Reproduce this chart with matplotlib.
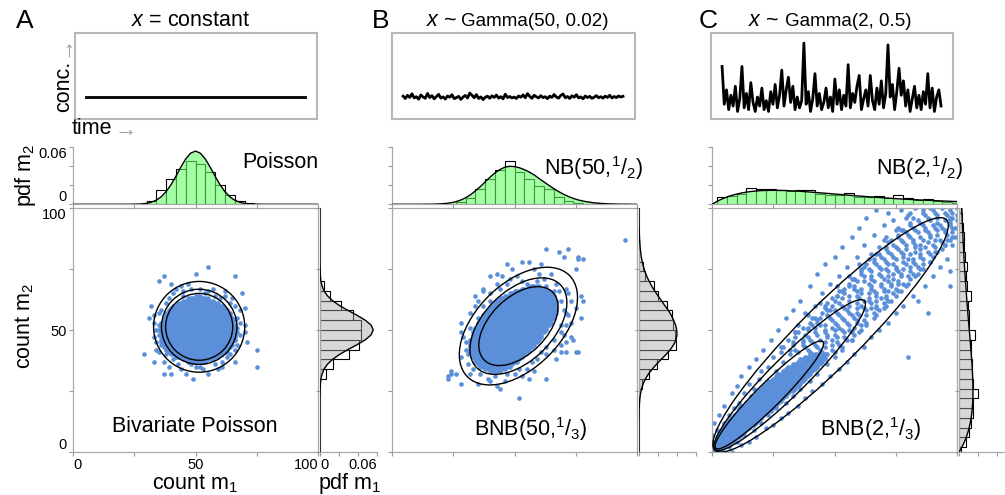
import numpy as np
import matplotlib
matplotlib.use("Agg")
import matplotlib.pyplot as plt
from matplotlib.patches import Ellipse

plt.rcParams['font.family'] = ['Liberation Sans', 'DejaVu Sans']
plt.rcParams['mathtext.fontset'] = 'custom'
plt.rcParams['mathtext.rm'] = 'Liberation Sans'
plt.rcParams['mathtext.it'] = 'Liberation Sans:italic'
plt.rcParams['mathtext.bf'] = 'Liberation Sans:bold'
plt.rcParams['mathtext.sf'] = 'Liberation Sans'

# ------------------------------------------------------------------ data
axis_ticks = [0, 25, 50, 75, 100]
pdf_ticks = [0, 0.02, 0.04, 0.06]

# time series (concentration x)
A_series = [1.0, 1.0]
B_series = [1.05,0.92,1.10,0.98,1.18,0.95,1.02,0.88,1.12,1.00,0.93,1.20,0.97,1.08,0.90,1.03,1.15,0.94,1.01,0.89,
            1.06,0.99,1.13,0.91,0.97,1.04,0.87,1.00,1.09,0.95,1.22,1.10,0.96,1.14,0.92,1.01,0.86,0.99,1.05,0.93,
            1.07,0.98,1.11,0.94,1.02,0.90,1.16,0.97,1.03,0.95,1.00,0.92,1.06,0.99,1.12,0.96,1.19,1.04,0.93,1.10,
            1.01,0.95,1.08,0.97,1.02,0.91,1.05,0.98,1.14,1.00,0.94,1.09,1.17,0.96,1.03,0.92,1.07,0.99,1.13,0.95,
            1.01,0.90,1.06,0.97,1.04,0.93,0.99,1.08,0.96,1.02,0.94,1.05,0.98,1.10,0.95,1.03,0.97,1.06,1.00,1.04]
C_series = [2.7,0.6,1.4,0.3,1.1,0.5,1.6,0.2,0.9,2.7,0.4,1.2,0.3,1.8,0.7,0.2,1.0,0.5,1.5,0.3,
            0.8,0.2,1.3,0.6,1.7,0.4,1.1,2.5,0.5,1.4,2.1,0.7,1.6,0.3,1.0,0.4,0.8,4.0,0.6,1.3,
            0.2,0.9,2.3,0.5,1.2,0.3,0.7,1.5,0.4,1.0,0.2,2.0,0.6,1.4,0.3,1.1,0.5,2.8,0.4,1.2,
            0.7,1.6,2.2,0.3,0.9,1.4,0.5,2.2,0.8,0.3,1.5,0.6,1.9,0.4,1.2,3.9,1.0,1.7,0.3,1.3,
            2.6,1.1,1.9,0.5,1.4,0.2,0.9,1.6,0.4,1.1,0.3,1.3,0.6,2.3,0.4,1.5,0.2,1.0,1.4,0.5]

# theoretical marginal pdf curves, read at counts 0,2,...,100
pdf_x = list(range(0, 101, 2))
A_pdf = [0,0,0,0,0,0,0,0,0,0,0,0,
         0.0001,0.0002,0.0004,0.0010,0.0022,0.0043,0.0079,0.0133,0.0206,0.0295,0.0391,0.0477,0.0538,0.0560,
         0.0538,0.0477,0.0391,0.0295,0.0206,0.0133,0.0079,0.0043,0.0022,0.0010,0.0004,0.0002,0.0001,
         0,0,0,0,0,0,0,0,0,0,0,0]
B_pdf = [0,0,0,0,0,0,0,
         0.0001,0.0001,0.0002,0.0005,0.0009,0.0016,0.0027,0.0044,0.0068,0.0100,0.0140,0.0185,0.0235,0.0285,
         0.0330,0.0365,0.0390,0.0400,0.0397,0.0385,0.0365,0.0340,0.0310,0.0272,0.0236,0.0200,0.0166,0.0134,
         0.0106,0.0082,0.0062,0.0046,0.0034,0.0024,0.0017,0.0012,0.0008,0.0005,0.0003,0.0002,0.0001,0.0001,
         0,0]
C_pdf = [0,0.0030,0.0055,0.0076,0.0093,0.0107,0.0119,0.0128,0.0135,0.0140,0.0144,0.0146,0.0147,0.0147,
         0.0146,0.0145,0.0142,0.0140,0.0137,0.0133,0.0129,0.0125,0.0121,0.0117,0.0113,0.0108,0.0104,0.0100,
         0.0095,0.0091,0.0087,0.0083,0.0079,0.0076,0.0072,0.0068,0.0065,0.0061,0.0058,0.0055,0.0052,0.0050,
         0.0047,0.0044,0.0042,0.0040,0.0037,0.0035,0.0033,0.0031,0.0029]

# empirical histograms (bin width 4), first bin edge + heights
A_top_start, A_top = 30, [0.0035,0.0153,0.0268,0.0368,0.0456,0.0421,0.0343,0.0200,0.0100,0.0040,0.0010]
A_right_start, A_right = 30, [0.0063,0.0140,0.0309,0.0414,0.0432,0.0432,0.0350,0.0221,0.0105,0.0046]
B_top_start, B_top = 26, [0.0020,0.0064,0.0160,0.0267,0.0356,0.0456,0.0338,0.0267,0.0189,0.0160,0.0075,0.0036,0.0015]
B_right_start, B_right = 26, [0.0028,0.0105,0.0186,0.0309,0.0386,0.0379,0.0361,0.0344,0.0291,0.0204,0.0161,0.0063,0.0040]
C_top_start, C_top = 2, [0.0072,0.0090,0.0107,0.0168,0.0165,0.0165,0.0154,0.0140,0.0154,0.0147,0.0111,0.0096,0.0096,
                         0.0114,0.0082,0.0075,0.0086,0.0064,0.0093,0.0068,0.0046,0.0060,0.0036,0.0029,0.0018]
C_right_start, C_right = -2, [0.0020,0.0070,0.0105,0.0125,0.0145,0.0148,0.0205,0.0148,0.0140,0.0138,0.0130,0.0125,0.0165,
                              0.0108,0.0100,0.0095,0.0123,0.0085,0.0075,0.0088,0.0065,0.0055,0.0050,0.0040,0.0035,0.0020]

# contour ellipses: (centre m1, centre m2, semi-axis along diagonal, semi-axis across)
A_ellipses = [(51.5,51.3,13.7,13.7),(51.5,51.3,15.4,15.4),(51.5,51.3,18.6,18.6)]
B_ellipses = [(51.6,51.6,19.7,11.6),(51.6,51.6,24.1,14.2),(51.6,51.6,29.4,17.3)]
C_ellipses = [(23.4,23.4,30.9,5.0),(31.7,31.5,43.1,7.5),(48.4,48.0,66.8,12.5)]

# scatter: solid rows of lattice points (m2, m1 from, m1 to) + single points (m1, m2)
A_rows = [(37,47,54),(38,45,56),(39,42,59),(40,40,61),(41,39,63),(42,38,63),(43,37,64),(44,37,65),(45,36,65),
          (46,36,66),(47,36,66),(48,35,66),(49,36,67),(50,35,66),(51,36,66),(52,36,66),(53,36,65),(54,37,66),
          (55,37,65),(56,38,64),(57,38,64),(58,39,63),(59,40,62),(60,41,61),(61,43,59),(62,45,57),(63,47,55),
          (64,50,52)]
A_pts = [(55,76),(50,73),(37,72),(66,72),(35,70),(40,69),(44,68),(52,67),(69,65),(32,60),(70,59),(31,55),(33,53),
         (70,52),(33,47),(71,45),(29,40),(75,42),(75,35),(33,37),(37,37),(66,37),(37,32),(40,32),(49,30),(55,32),
         (44,34),(59,34),(41,38),(66,42),(68,48),(67,55),(64,61),(60,63),(41,65),(38,61),(35,57),(34,42),(36,48),
         (47,69),(48,67),(57,67),(53,34),(63,39),(52,35),(46,32),(57,38),(36,44),(35,52),(36,58),(39,63),(45,66),
         (55,66),(62,64),(66,60),(67,51),(66,46),(64,40),(58,36),(50,35),(43,36),(38,40),(34,50),(68,58),(62,66),
         (42,67),(33,56),(34,45),(39,35),(61,35),(70,49),(45,64),(58,64),(65,63),(54,65),(35,41),(61,37),(48,36),
         (67,44),(68,53)]

B_rows = [(33,40,44),(34,38,46),(35,36,48),(36,35,49),(37,34,51),(38,34,52),(39,33,53),(40,33,54),(41,32,55),
          (42,32,56),(43,32,57),(44,32,58),(45,32,59),(46,32,60),(47,33,61),(48,33,61),(49,33,62),(50,34,63),
          (51,34,63),(52,35,64),(53,35,65),(54,36,65),(55,37,66),(56,37,66),(57,38,67),(58,39,67),(59,40,67),
          (60,41,67),(61,42,67),(62,43,67),(63,44,66),(64,46,66),(65,48,65),(66,50,64),(67,53,62),(68,56,60)]
B_pts = [(95,87),(63,83),(68,82),(72,83),(70,80),(76,80),(78,79),(76,79),(75,75),(47,77),(53,78),(56,78),(61,77),
         (43,73),(40,72),(37,67),(37,66),(32,57),(28,53),(28,49),(24,33),(23,30),(26,32),(28,28),(32,32),(35,28),
         (39,30),(43,27),(44,26),(52,22),(56,30),(63,30),(69,41),(73,47),(71,41),(75,41),(76,41),(77,55),(78,62),
         (77,64),(75,59),(73,53),(71,45),(24,32),(23,31),(28,39),(30,45),(31,40),(49,75),(51,72),(58,75),(65,73),
         (67,69),(71,67),(73,62),(69,62),(43,69),(40,65),(35,62),(34,60),(36,32),(40,29),(47,32),(52,34),(59,38),
         (63,40),(66,42),(69,44),(69,49),(71,52),(74,46),(31,36),(33,39),(29,47),(32,51),(35,55),(37,60),(40,62),
         (44,67),(47,69),(53,70),(55,69),(59,70),(63,68),(66,66),(70,58),(71,57),(69,52),(66,46),(63,43),(61,41),
         (57,37),(53,31),(50,32),(44,33),(39,36),(45,72),(60,73),(68,66),(72,56),(67,38),(55,34),(42,31),(30,42),
         (34,64),(48,71),(62,71),(72,65),(70,48),(58,33),(46,29),(33,34)]

C_rows = [(0,0,2),(1,0,4),(2,0,5),(3,1,7),(4,1,8),(5,2,9),(6,2,11),(7,3,12),(8,3,13),(9,4,14),(10,5,15),(11,5,17),
          (12,6,18),(13,7,19),(14,8,20),(15,9,21),(16,10,22),(17,11,24),(18,11,25),(19,12,26),(20,14,27),(21,15,28),
          (22,16,29),(23,16,30),(24,18,31),(25,19,33),(26,20,34),(27,21,25),(27,27,35),(28,22,36),(29,23,30),
          (29,32,37),(30,25,38),(31,26,33),(31,35,39),(32,27,40),(33,29,35),(33,37,41),(34,30,42),(35,31,38),
          (35,40,43),(36,33,44),(37,35,39),(37,41,45),(38,36,46),(39,38,42),(39,44,46),(40,40,47)]
C_pts = [(0,7),(1,12),(2,9),(3,15),(5,12),(5,19),(7,15),(8,24),(9,18),(10,27),(11,20),(12,31),(13,24),(15,28),
         (15,35),(17,26),(18,38),(19,30),(20,33),(21,42),(23,35),(24,46),(25,39),(26,33),(27,50),(28,43),(29,37),
         (30,55),(31,46),(32,40),(33,58),(34,49),(35,52),(36,62),(37,45),(38,57),(40,68),(41,52),(42,60),(43,73),
         (44,55),(45,65),(46,77),(47,58),(48,69),(50,80),(51,64),(52,72),(53,84),(54,67),(55,76),(57,88),(58,71),
         (59,80),(60,92),(61,75),(62,85),(63,96),(64,79),(66,89),(67,99),(68,84),(70,93),(71,88),(72,98),(74,95),
         (75,91),(77,99),(79,96),(81,98),(83,100),
         (34,49),(37,51),(39,56),(42,55),(44,61),(46,60),(49,63),(51,68),(53,66),(56,72),(58,71),(60,77),(63,77),
         (65,81),(68,81),(70,87),(73,87),(76,92),(78,91),(80,97),
         (4,0),(7,2),(8,0),(10,4),(12,3),(13,7),(15,4),(17,9),(18,6),(20,12),(22,10),(23,15),(25,11),(26,18),
         (28,14),(30,20),(31,16),(33,23),(35,19),(36,26),(38,22),(40,29),(41,25),(43,32),(45,28),(47,36),(48,31),
         (50,39),(52,34),(53,42),(55,37),(57,46),(58,40),(60,49),(62,43),(63,52),(65,47),(67,56),(68,50),(70,59),
         (72,53),(73,62),(75,57),(77,66),(78,60),(80,69),(82,64),(83,72),(84,62),(86,75),(87,68),(89,78),(90,72),
         (92,82),(93,76),(95,85),(96,79),(97,68),(98,88),(88,57),(80,39),(98,96),(97,87),(98,85),(97,74),(99,92)]
C_mid = [(41,[28,35,40,45,50]),(42,[32,34,39,44,49]),(43,[29,38,43,46,53]),(44,[33,37,42,49,52]),
         (45,[33,41,46,51]),(46,[37,40,44,49,55,57]),(47,[34,39,47,51,54]),(48,[38,43,47,50,58]),
         (49,[35,42,46,54,57]),(50,[39,46,50,53,56,61]),(51,[39,42,49,52,58]),(52,[44,46,51,56,61]),
         (53,[40,43,50,55,59,63]),(54,[43,49,54,59,62]),(55,[41,48,53,58,66]),(56,[47,52,57,60,63]),
         (57,[45,51,56,59,66]),(58,[48,50,55,63,68]),(59,[46,54,59,62,65,67]),(60,[49,53,56,61,67,71]),
         (61,[47,52,59,65,70]),(62,[50,56,62,64,67,72]),(63,[53,60,64,69,71]),(64,[51,56,59,67,71,75]),
         (65,[54,61,64,67,74]),(66,[52,59,66,70,72,76]),(67,[58,61,65,70,75]),(68,[56,58,65,69,73,79]),
         (69,[56,64,69,73,76,78]),(70,[59,62,66,72,76]),(71,[57,65,70,74,81]),(72,[62,65,69,72,77,80]),
         (73,[61,68,74,77,82,84]),(74,[61,65,72,76,81]),(75,[64,69,71,75,78,85]),(76,[62,68,75,81,84]),
         (77,[67,72,74,79,83,86]),(78,[66,71,78,82,89]),(79,[66,70,75,80,82,86]),(80,[69,74,78,85,90]),
         (81,[67,73,78,81,85,89]),(82,[72,77,83,88,91]),(83,[71,76,79,85,94]),(84,[71,75,83,87,91]),
         (85,[74,79,83,85,90,95]),(86,[72,78,82,88,94]),(87,[77,82,86,91,93,96]),(88,[76,81,85,89,99]),
         (89,[76,80,89,92,96]),(90,[79,84,88,95,98]),(91,[77,83,87,92,95]),(92,[82,87,91,94,98]),
         (93,[81,86,90,93,97]),(94,[81,85,92,97]),(95,[84,89,95,97,100]),(96,[82,88,92,97]),
         (97,[87,92,96,100]),(98,[86,91,95,98]),(99,[86,90,97,101]),(100,[89,94,100])]

# ------------------------------------------------------------------ figure
W, H = 1005, 495
fig = plt.figure(figsize=(W / 100, H / 100), dpi=100)


def axp(x0, y0, x1, y1):
    return fig.add_axes([x0 / W, 1 - y1 / H, (x1 - x0) / W, (y1 - y0) / H])


SPINE = '#a9a9a9'
TICK = '#9a9a9a'
BLUE = '#5b8fd9'
FS = 15.5


def style(ax, sides):
    for s in ['left', 'right', 'top', 'bottom']:
        ax.spines[s].set_visible(s in sides)
        ax.spines[s].set_color(SPINE)
        ax.spines[s].set_linewidth(0.9)
    ax.tick_params(direction='out', length=3, width=0.8, color=TICK, labelsize=10.5, pad=1.5)


def expand(rows, pts, mid):
    xs, ys = [], []
    for r, lo, hi in rows:
        xs.extend(range(lo, hi + 1))
        ys.extend([r] * (hi - lo + 1))
    for u, v in pts:
        xs.append(u)
        ys.append(v)
    for v, us in mid:
        xs.extend(us)
        ys.extend([v] * len(us))
    return xs, ys


panels = [
    dict(x0=73, tx=(75, 317), rows=A_rows, pts=A_pts, mid=[], ell=A_ellipses, pdf=A_pdf,
         ts=A_series, ts_t=[0, 99], top=(A_top_start, A_top), right=(A_right_start, A_right)),
    dict(x0=392, tx=(392, 635), rows=B_rows, pts=B_pts, mid=[], ell=B_ellipses, pdf=B_pdf,
         ts=B_series, ts_t=list(range(100)), top=(B_top_start, B_top), right=(B_right_start, B_right)),
    dict(x0=712, tx=(711, 953), rows=C_rows, pts=C_pts, mid=C_mid, ell=C_ellipses, pdf=C_pdf,
         ts=C_series, ts_t=list(range(100)), top=(C_top_start, C_top), right=(C_right_start, C_right)),
]

for k, p in enumerate(panels):
    x0 = p['x0']
    # ---- main scatter
    ax = axp(x0, 208, x0 + 245, 452)
    xs, ys = expand(p['rows'], p['pts'], p['mid'])
    ax.scatter(xs, ys, s=11, c=BLUE, linewidths=0, zorder=2)
    for cx, cy, a, b in p['ell']:
        ax.add_patch(Ellipse((cx, cy), 2 * a, 2 * b, angle=45, fill=False, ec='black', lw=1.0, zorder=3))
    ax.set_xlim(0, 100)
    ax.set_ylim(0, 100)
    style(ax, ['left', 'right', 'top', 'bottom'])
    ax.set_xticks(axis_ticks)
    ax.set_yticks(axis_ticks)
    if k == 0:
        ax.set_xticklabels(['0', '', '50', '', '100'])
        ax.set_yticklabels(['0', '', '50', '', '100'])
        xl = ax.get_xticklabels()
        xl[0].set_ha('left'); xl[4].set_ha('right')
        yl = ax.get_yticklabels()
        yl[0].set_va('bottom'); yl[4].set_va('top')
    else:
        ax.tick_params(labelbottom=False, labelleft=False)

    # ---- top marginal
    axt = axp(x0, 147.3, x0 + 245, 204.3)
    st, hts = p['top']
    edges = np.arange(st, st + 4 * len(hts), 4)
    axt.bar(edges, hts, width=4, align='edge', facecolor='white', edgecolor='black', linewidth=0.8, zorder=1)
    axt.fill_between(pdf_x, p['pdf'], color='#66ff66', alpha=0.6, linewidth=0, zorder=2)
    axt.plot(pdf_x, p['pdf'], color='black', lw=1.0, zorder=3)
    axt.set_xlim(0, 100)
    axt.set_ylim(0, 0.06)
    style(axt, ['left', 'bottom'])
    axt.set_xticks(axis_ticks)
    axt.set_yticks(pdf_ticks)
    axt.tick_params(labelbottom=False)
    if k == 0:
        axt.set_yticklabels(['0', '', '', '0.06'])
        yl = axt.get_yticklabels()
        yl[0].set_va('bottom'); yl[3].set_va('top')
    else:
        axt.tick_params(labelleft=False)

    # ---- right marginal
    axr = axp(x0 + 247, 208, x0 + 304, 452)
    st, hts = p['right']
    edges = np.arange(st, st + 4 * len(hts), 4)
    axr.barh(edges, hts, height=4, align='edge', facecolor='white', edgecolor='black', linewidth=0.8, zorder=1)
    axr.fill_betweenx(pdf_x, p['pdf'], color='#a8a8a8', alpha=0.45, linewidth=0, zorder=2)
    axr.plot(p['pdf'], pdf_x, color='black', lw=1.0, zorder=3)
    axr.set_ylim(0, 100)
    axr.set_xlim(0, 0.06)
    style(axr, ['left', 'bottom'])
    axr.set_yticks(axis_ticks)
    axr.set_xticks(pdf_ticks)
    axr.tick_params(labelleft=False)
    if k == 0:
        axr.set_xticklabels(['0', '', '', '0.06'])
        xl = axr.get_xticklabels()
        xl[0].set_ha('left'); xl[3].set_ha('right')
    else:
        axr.tick_params(labelbottom=False)

    # ---- time series box
    axs = axp(p['tx'][0], 33, p['tx'][1], 119)
    axs.plot(p['ts_t'], p['ts'], color='black', lw=2.0, solid_joinstyle='round')
    axs.set_xlim(-5, 104.4)
    axs.set_ylim(-0.22, 4.56)
    axs.set_xticks([]); axs.set_yticks([])
    for s in axs.spines.values():
        s.set_color('#b8b8b8'); s.set_linewidth(1.5)


def ftext(x, y, s, **kw):
    return fig.text(x / W, 1 - y / H, s, **kw)


# panel letters and titles
ftext(16, 21, 'A', fontsize=19, ha='left', va='center')
ftext(372, 21, 'B', fontsize=19, ha='left', va='center')
ftext(699, 21, 'C', fontsize=19, ha='left', va='center')
ftext(191, 20, r'$x$ = constant', fontsize=FS, ha='center', va='center')
ftext(426, 21, r'$x$ ~', fontsize=FS, ha='left', va='center')
ftext(461, 21, 'Gamma(50, 0.02)', fontsize=13.5, ha='left', va='center')
ftext(748, 21, r'$x$ ~', fontsize=FS, ha='left', va='center')
ftext(785, 21, 'Gamma(2, 0.5)', fontsize=13.5, ha='left', va='center')

# time-box axis hints
ftext(64, 86, 'conc.', fontsize=FS, rotation=90, ha='center', va='center')
ftext(64, 46, '\u2192', fontsize=16, rotation=90, ha='center', va='center', color='#9a9a9a')
ftext(72, 129, 'time', fontsize=FS, ha='left', va='center')
ftext(114, 130, '\u2192', fontsize=16, ha='left', va='center', color='#9a9a9a')

# distribution labels
ftext(318, 163, 'Poisson', fontsize=FS, ha='right', va='center')
ftext(643, 168, r'NB(50,$^{1}$/$_{2}$)', fontsize=FS, ha='right', va='center')
ftext(963, 168, r'NB(2,$^{1}$/$_{2}$)', fontsize=FS, ha='right', va='center')
ftext(195, 427, 'Bivariate Poisson', fontsize=FS, ha='center', va='center')
ftext(531, 429, r'BNB(50,$^{1}$/$_{3}$)', fontsize=FS, ha='center', va='center')
ftext(871, 429, r'BNB(2,$^{1}$/$_{3}$)', fontsize=FS, ha='center', va='center')

# axis labels
ftext(195, 484, r'count m$_1$', fontsize=FS, ha='center', va='center')
ftext(350, 484, r'pdf m$_1$', fontsize=FS, ha='center', va='center')
ftext(25, 326, r'count m$_2$', fontsize=FS, rotation=90, ha='center', va='center')
ftext(25, 175, r'pdf m$_2$', fontsize=FS, rotation=90, ha='center', va='center')

fig.savefig('out.png', dpi=100)
